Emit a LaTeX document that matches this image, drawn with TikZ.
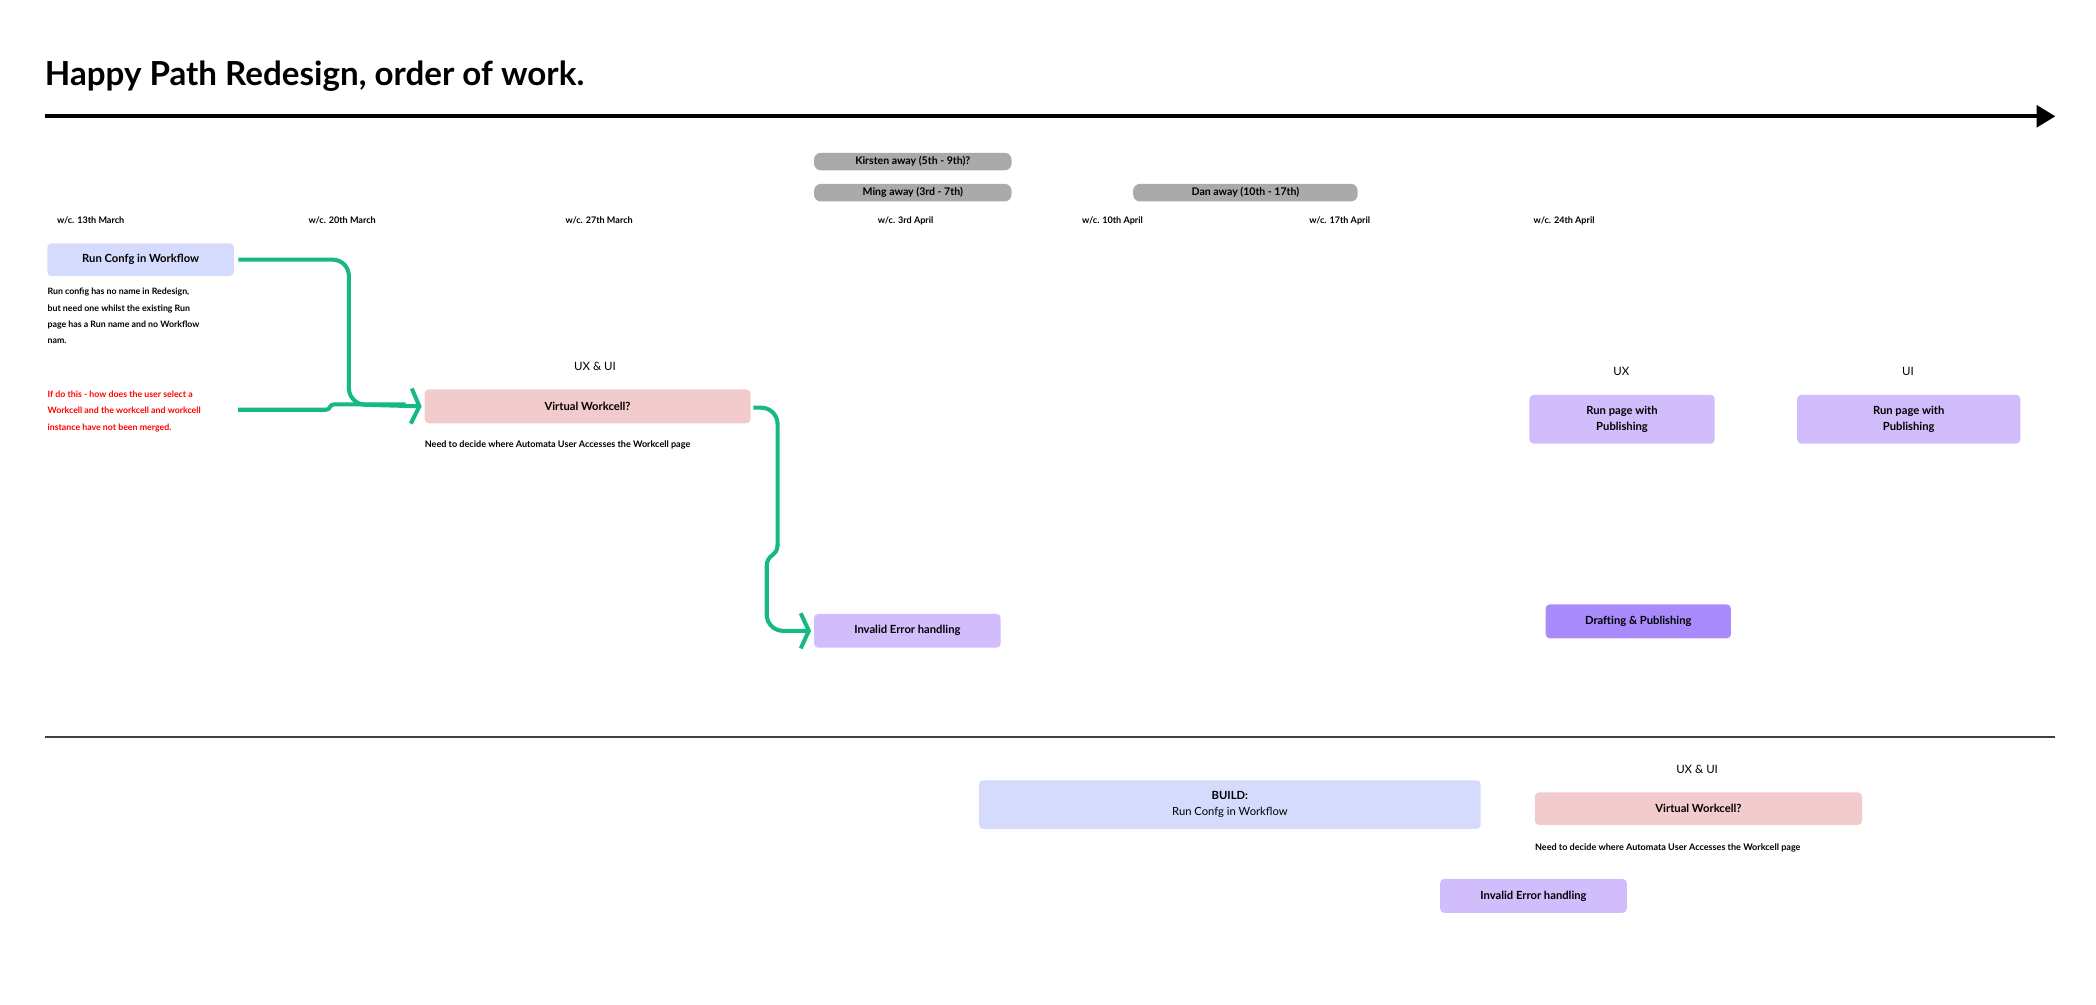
\documentclass[tikz,border=0pt]{standalone}
\usepackage{fontspec}
\setmainfont{Lato}
\usetikzlibrary{arrows.meta}
\definecolor{blueb}{HTML}{D4DBFC}
\definecolor{pinkb}{HTML}{F2CBCD}
\definecolor{lavb}{HTML}{D1BCFC}
\definecolor{purpb}{HTML}{A98AFC}
\definecolor{grayb}{HTML}{AAAAAA}
\definecolor{grn}{HTML}{16B886}
\tikzset{
  box/.style={fill=#1,rounded corners=3pt,align=center,font=\fontsize{8.3}{11.5}\selectfont\bfseries,inner sep=0pt},
  pill/.style={fill=grayb,rounded corners=5pt,font=\fontsize{7.8}{9}\selectfont\bfseries,inner sep=0pt,minimum height=13pt},
  wk/.style={font=\fontsize{6.7}{8}\selectfont\bfseries,anchor=west,inner sep=0pt},
  note/.style={font=\fontsize{6.5}{12}\selectfont\bfseries,anchor=north west,align=left,inner sep=0pt},
  lbl/.style={font=\fontsize{8.5}{10}\selectfont,inner sep=0pt},
  conn/.style={draw=grn,line width=3pt,rounded corners=12pt,-{Straight Barb[length=6pt,width=26pt,line width=3pt]}},
  connb/.style={draw=grn,line width=3pt,rounded corners=12pt}
}
\begin{document}
\begin{tikzpicture}[x=1pt,y=-1pt]
\useasboundingbox (0,0) rectangle (1550,742.5);
\node[anchor=base west,inner sep=0pt,font=\fontsize{24.5}{30}\selectfont\bfseries] (title) at (33,63) {Happy Path Redesign, order of work.};
\coordinate (a0) at (33,86);
\coordinate (a1) at (1520,86);
\draw[line width=3pt,-{Triangle[length=14pt,width=16pt]}] (a0) -- (a1);

\node[pill,minimum width=146pt] (kir) at (675,119.5) {Kirsten away (5th - 9th)?};
\node[pill,minimum width=146pt] (ming) at (675,142.5) {Ming away (3rd - 7th)};
\node[pill,minimum width=166pt] (dan) at (921,142.5) {Dan away (10th - 17th)};

\node[wk] (w1) at (42,163) {w/c. 13th March};
\node[wk] (w2) at (228,163) {w/c. 20th March};
\node[wk] (w3) at (418,163) {w/c. 27th March};
\node[wk] (w4) at (649,163) {w/c. 3rd April};
\node[wk] (w5) at (800,163) {w/c. 10th April};
\node[wk] (w6) at (968,163) {w/c. 17th April};
\node[wk] (w7) at (1134,163) {w/c. 24th April};

\node[box=blueb,minimum width=138pt,minimum height=24pt] (rc) at (104,192) {Run Confg in Workflow};
\node[note] (rcn) at (35,213) {Run config has no name in Redesign,\\but need one whilst the existing Run\\page has a Run name and no Workflow\\nam.};
\node[note,text=red] (red) at (35,289) {If do this - how does the user select a\\Workcell and the workcell and workcell\\instance have not been merged.};
\coordinate (redend) at (176,303);

\node[lbl] (uxui1) at (440,271) {UX \& UI};
\node[box=pinkb,minimum width=241pt,minimum height=25pt] (vw) at (434.5,300.5) {Virtual Workcell?};
\node[wk] (vwn) at (314,329) {Need to decide where Automata User Accesses the Workcell page};

\node[box=lavb,minimum width=138pt,minimum height=25pt] (ieh) at (671,466.5) {Invalid Error handling};

\node[lbl] (ux) at (1199,275) {UX};
\node[lbl] (ui) at (1411,275) {UI};
\node[box=lavb,minimum width=137pt,minimum height=36pt] (rp1) at (1199.5,310) {Run page with\\Publishing};
\node[box=lavb,minimum width=165pt,minimum height=36pt] (rp2) at (1411.5,310) {Run page with\\Publishing};
\node[box=purpb,minimum width=137pt,minimum height=25pt] (dp) at (1211.5,459.5) {Drafting \& Publishing};

\coordinate (s0) at (33,545);
\coordinate (s1) at (1520,545);
\draw[line width=1pt,draw=black!75] (s0) -- (s1);

\node[box=blueb,minimum width=371pt,minimum height=36pt] (build) at (909.5,595) {BUILD:\\{\mdseries Run Confg in Workflow}};
\node[lbl] (uxui2) at (1255,569) {UX \& UI};
\node[box=pinkb,minimum width=242pt,minimum height=24pt] (vw2) at (1256,598) {Virtual Workcell?};
\node[wk] (vw2n) at (1135,627) {Need to decide where Automata User Accesses the Workcell page};
\node[box=lavb,minimum width=138pt,minimum height=25pt] (ieh2) at (1134,662.5) {Invalid Error handling};

\draw[conn] ([xshift=3pt]rc.east) -| (258,299) -- ([xshift=-2pt]vw.west);
\draw[connb,rounded corners=2pt] (redend) -- (243,303) -- (245,299) -- (300,299);
\draw[connb] ([xshift=2pt,yshift=-1pt]vw.east) -| (575,404);
\draw[draw=grn,line width=3pt] (575,403) .. controls (575,412) and (567,409) .. (567,419);
\draw[conn] (567,418) |- ([xshift=-2pt]ieh.west);
\end{tikzpicture}
\end{document}
